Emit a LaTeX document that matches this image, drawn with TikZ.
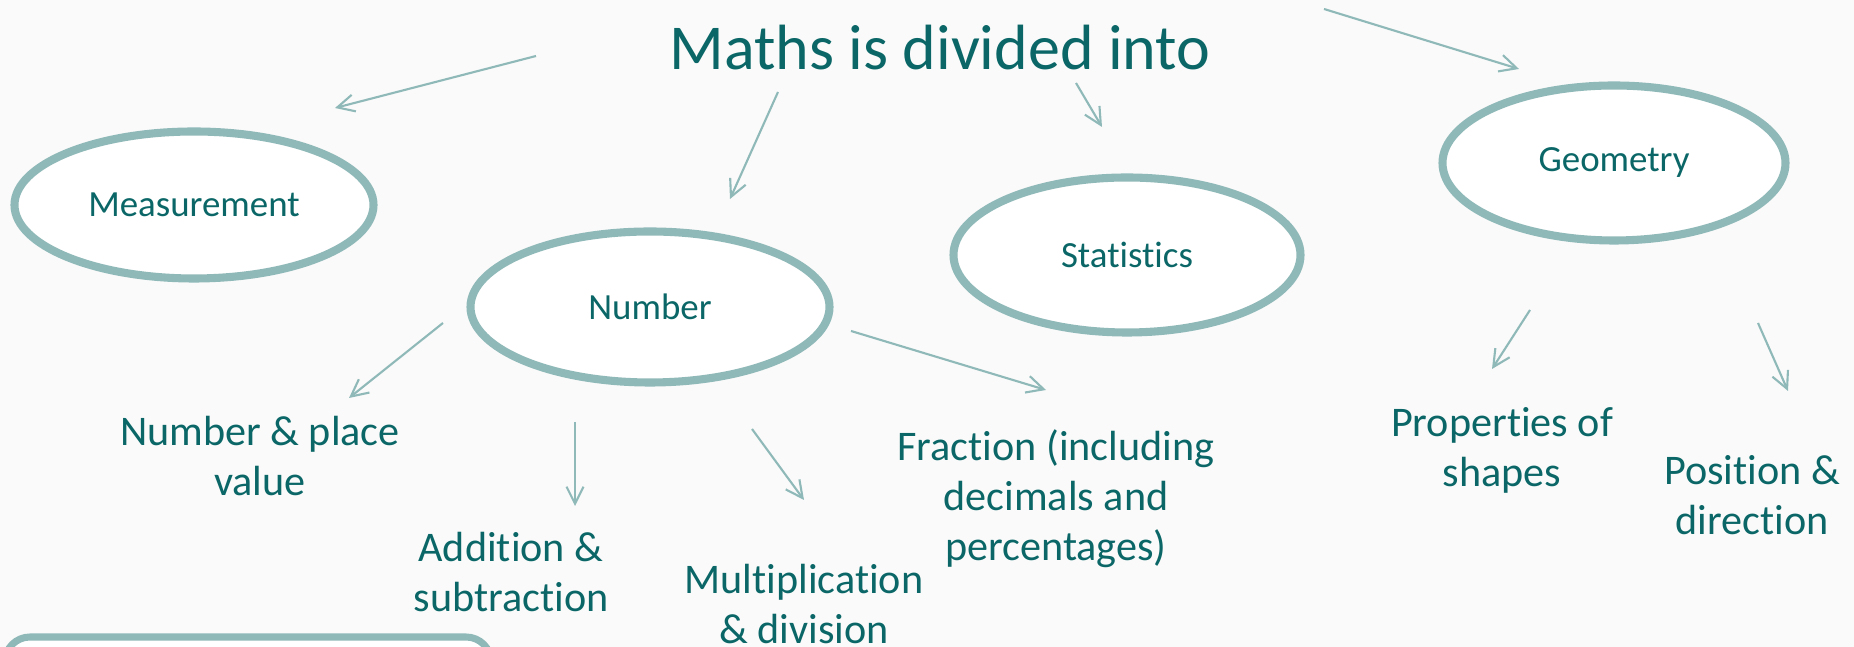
\documentclass[tikz,border=0pt]{standalone}
\usepackage{fontspec}
\setmainfont{Carlito}[Ligatures=NoCommon]
\usetikzlibrary{positioning, arrows.meta, shapes.geometric}
\usepackage{xcolor}
\definecolor{tealtext}{HTML}{0B6767}
\definecolor{tealline}{HTML}{8FB9B8}
\definecolor{bgpaper}{HTML}{FAFAFA}

\begin{document}
\begin{tikzpicture}[
        x=0.1mm, y=-0.1mm,
        topic/.style={ellipse, draw=tealline, line width=2.3pt, fill=white, inner sep=0pt, text=tealtext, font=\fontsize{10.5}{12}\selectfont},
        sub/.style={align=center, text=tealtext, font=\fontsize{12}{14.2}\selectfont},
        arrow/.style={-{Straight Barb[length=1.7mm, width=1.7mm]}, draw=tealline, line width=0.6pt}
    ]
        \useasboundingbox (0,0) rectangle (1854,647);
        \fill[bgpaper] (0,0) rectangle (1854,647);
        \clip (0,0) rectangle (1854,647);

        % Title
        \node (title) [anchor=base, text=tealtext, font=\fontsize{18.2}{21}\selectfont] at (940,70) {Maths is divided into};

        % Topics
        \node (meas) [topic, minimum width=35.9mm, minimum height=14.7mm] at (194,205) {Measurement};
        \node (num) [topic, minimum width=35.9mm, minimum height=15.1mm] at (650,307) {Number};
        \node (stat) [topic, minimum width=34.7mm, minimum height=15.5mm] at (1127,255) {Statistics};
        \node (geo) [topic, minimum width=34.3mm, minimum height=15.5mm] at (1614,163) {Geometry};

        % Sub topics
        \node (place) [sub] at (260,456) {Number \& place\\value};
        \node (add) [sub] at (511,572) {Addition \&\\subtraction};
        \node (mult) [sub] at (804,604) {Multiplication\\\& division};
        \node (frac) [sub] at (1056,499) {Fraction (including\\decimals and\\percentages)};
        \node (prop) [sub] at (1502,450) {Properties of\\shapes};
        \node (pos) [sub] at (1752,495) {Position \&\\direction};

        % Note box
        \draw [draw=tealline, line width=2pt, fill=white, rounded corners=2.5mm] (5,637) rectangle (491,720);

        % Arrow ends
        \coordinate (t-meas) at (536,56);   \coordinate (meas-in) at (335,108);
        \coordinate (t-num) at (778,92);    \coordinate (num-in) at (730,199);
        \coordinate (t-stat) at (1076,83);  \coordinate (stat-in) at (1102,127);
        \coordinate (t-geo) at (1324,9);    \coordinate (geo-in) at (1519,69);
        \coordinate (n-place) at (443,323); \coordinate (place-in) at (349,398);
        \coordinate (n-add) at (575,422);   \coordinate (add-in) at (575,506);
        \coordinate (n-mult) at (752,429);  \coordinate (mult-in) at (804,500);
        \coordinate (n-frac) at (851,331);  \coordinate (frac-in) at (1046,390);
        \coordinate (g-prop) at (1530,310); \coordinate (prop-in) at (1492,369);
        \coordinate (g-pos) at (1758,323);  \coordinate (pos-in) at (1788,391);

        % Arrows
        \draw [arrow] (t-meas) -- (meas-in);
        \draw [arrow] (t-num) -- (num-in);
        \draw [arrow] (t-stat) -- (stat-in);
        \draw [arrow] (t-geo) -- (geo-in);
        \draw [arrow] (n-place) -- (place-in);
        \draw [arrow] (n-add) -- (add-in);
        \draw [arrow] (n-mult) -- (mult-in);
        \draw [arrow] (n-frac) -- (frac-in);
        \draw [arrow] (g-prop) -- (prop-in);
        \draw [arrow] (g-pos) -- (pos-in);
    \end{tikzpicture}
\end{document}
